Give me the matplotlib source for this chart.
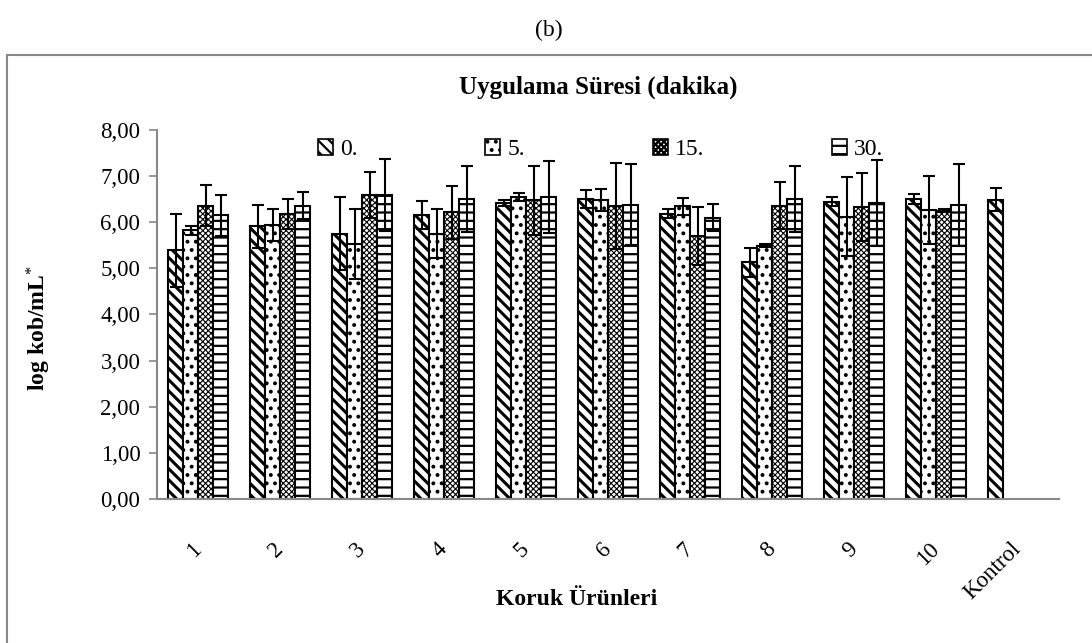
import matplotlib.pyplot as plt
import matplotlib.patches as mpatches
from matplotlib.ticker import FuncFormatter
import numpy as np

plt.rcParams['font.family'] = ['Liberation Serif', 'DejaVu Serif']
plt.rcParams['mathtext.fontset'] = 'custom'
plt.rcParams['mathtext.rm'] = 'Liberation Serif'
plt.rcParams['mathtext.it'] = 'Liberation Serif'
plt.rcParams['hatch.linewidth'] = 1.6

# Veriler (Koruk ürünleri, uygulama süresi)
kategoriler = ['1', '2', '3', '4', '5', '6', '7', '8', '9', '10', 'Kontrol']
seriler = ['0.', '5.', '15.', '30.']

deger_0 = [5.39, 5.91, 5.75, 6.16, 6.41, 6.50, 6.18, 5.13, 6.44, 6.51, 6.49]
deger_5 = [5.82, 5.94, 5.53, 5.75, 6.54, 6.48, 6.34, 5.49, 6.12, 6.27, np.nan]
deger_15 = [6.36, 6.18, 6.59, 6.21, 6.47, 6.35, 5.70, 6.36, 6.33, 6.25, np.nan]
deger_30 = [6.15, 6.36, 6.59, 6.50, 6.55, 6.38, 6.10, 6.50, 6.42, 6.37, np.nan]

hata_0 = [0.79, 0.46, 0.79, 0.30, 0.06, 0.19, 0.10, 0.32, 0.10, 0.11, 0.24]
hata_5 = [0.10, 0.35, 0.76, 0.53, 0.09, 0.23, 0.18, 0.03, 0.85, 0.74, np.nan]
hata_15 = [0.45, 0.33, 0.49, 0.57, 0.74, 0.94, 0.62, 0.50, 0.74, 0.03, np.nan]
hata_30 = [0.44, 0.29, 0.78, 0.71, 0.78, 0.88, 0.30, 0.72, 0.93, 0.88, np.nan]

degerler = [deger_0, deger_5, deger_15, deger_30]
hatalar = [hata_0, hata_5, hata_15, hata_30]
desenler = ['\\\\\\', '..', 'xxxxxx', '--']
desen_kalinlik = [2.2, 1.6, 0.8, 1.6]

fig = plt.figure(figsize=(10.92, 6.43), dpi=100)
ax = fig.add_axes([0.1438, 0.224, 0.826, 0.574])

x = np.arange(len(kategoriler))
genislik = 0.183

handles = []
for i, (vals, errs) in enumerate(zip(degerler, hatalar)):
    pos = x + (i - 1.5) * genislik
    bars = ax.bar(pos, vals, genislik, color='white', edgecolor='black',
                  linewidth=1.5, hatch=desenler[i], label=seriler[i], zorder=2)
    for b in bars:
        if hasattr(b, 'set_hatch_linewidth'):
            b.set_hatch_linewidth(desen_kalinlik[i])
    ax.errorbar(pos, vals, yerr=errs, fmt='none', ecolor='black',
                elinewidth=1.5, capsize=4.5, capthick=1.5, zorder=3)
    handles.append(mpatches.Patch(facecolor='white', edgecolor='black',
                                  hatch=desenler[i], linewidth=1.2))

ax.set_xlim(-0.5, len(kategoriler) - 0.5)
ax.set_ylim(0, 8)
ax.set_yticks(np.arange(0, 9, 1))
ax.yaxis.set_major_formatter(FuncFormatter(lambda v, p: f'{v:.2f}'.replace('.', ',')))
ax.tick_params(axis='y', labelsize=16.5, length=6, width=1.2, color='#888888', pad=6)
ax.set_xticks(x)
ax.set_xticklabels(kategoriler, rotation=45, ha='right', va='center',
                   rotation_mode='anchor', fontsize=16.5)
ax.tick_params(axis='x', length=0, pad=34)

for s in ['top', 'right']:
    ax.spines[s].set_visible(False)
ax.spines['left'].set_color('#888888')
ax.spines['bottom'].set_color('#888888')
ax.spines['left'].set_linewidth(1.5)
ax.spines['bottom'].set_linewidth(1.5)

fig.text(0.036, 0.49, 'log kob/mL$^{*}$', rotation=90, fontsize=17,
         fontweight='bold', ha='center', va='center')
fig.text(0.528, 0.068, 'Koruk Ürünleri', fontsize=17, fontweight='bold',
         ha='center', va='center')

fig.text(0.548, 0.864, 'Uygulama Süresi (dakika)', fontsize=18,
         fontweight='bold', ha='center', va='center')
fig.legend(handles, seriler, loc='center', bbox_to_anchor=(0.55, 0.767),
           ncol=4, frameon=False, fontsize=17, handlelength=0.65,
           handleheight=0.65, handletextpad=0.3, columnspacing=5.4)

fig.text(0.503, 0.953, '(b)', fontsize=17, ha='center', va='center')

# Dış çerçeve
cerceve = mpatches.Rectangle((7 / 1092, -0.1), 1.2, 1.1 - 55 / 643,
                             transform=fig.transFigure, fill=False,
                             edgecolor='#888888', linewidth=1.5)
fig.patches.append(cerceve)

fig.savefig('out.png', dpi=100)
